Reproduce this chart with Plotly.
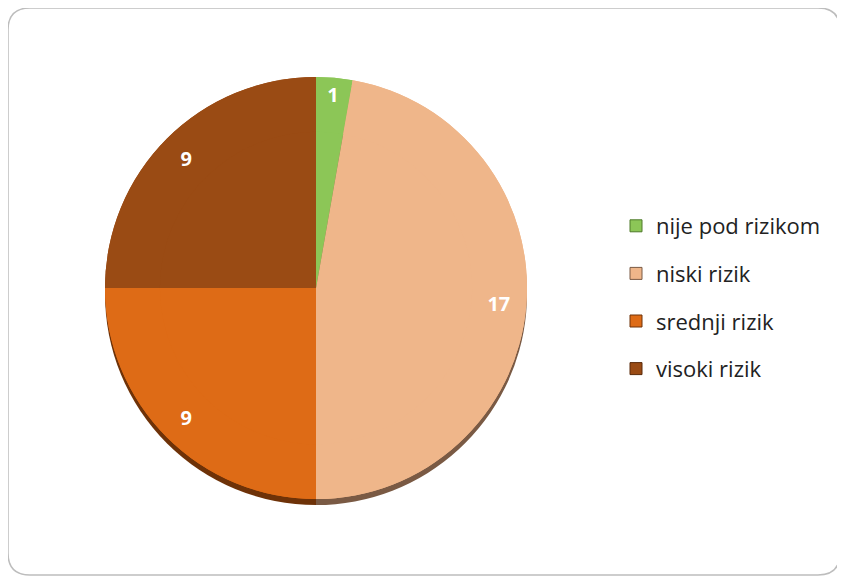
import plotly.graph_objects as go

categories = ["nije pod rizikom", "niski rizik", "srednji rizik", "visoki rizik"]
values = [1, 17, 9, 9]
colors = ["#8CC657", "#EFB68A", "#DE6B16", "#9A4B14"]
shadow_colors = ["#4E7A2A", "#7A5A44", "#6E3208", "#5A2A0A"]

W, H = 845, 579
OFF = 8  # page body margin offset

def px(x):
    return (x - OFF) / W

def py(y):
    return 1 - (y - OFF) / H

cx, cy, r = 316, 288, 211

fig = go.Figure()

# shadow rim of the pie
fig.add_trace(go.Pie(
    labels=categories, values=values, sort=False, direction="clockwise", rotation=0,
    marker=dict(colors=shadow_colors, line=dict(width=0)),
    textinfo="none", hoverinfo="skip", showlegend=False,
    domain=dict(x=[px(cx - r), px(cx + r)], y=[py(cy + r + 6), py(cy - r + 6)]),
))

# pie face
fig.add_trace(go.Pie(
    labels=categories, values=values, sort=False, direction="clockwise", rotation=0,
    marker=dict(colors=colors, line=dict(width=0)),
    textinfo="none", showlegend=False,
    domain=dict(x=[px(cx - r), px(cx + r)], y=[py(cy + r), py(cy - r)]),
))

# outer ring carrying the value labels near the edge
fig.add_trace(go.Pie(
    labels=categories, values=values, sort=False, direction="clockwise", rotation=0,
    hole=0.74,
    marker=dict(colors=colors, line=dict(width=0)),
    textinfo="value", textposition="inside", insidetextorientation="horizontal",
    textfont=dict(family="Open Sans", size=20, color="white", weight="bold"),
    showlegend=False,
    domain=dict(x=[px(cx - r), px(cx + r)], y=[py(cy + r), py(cy - r)]),
))

for i, (c, col) in enumerate(zip(categories, colors)):
    fig.add_trace(go.Scatter(
        x=[None], y=[None], mode="markers", name=c, legendgroup=c,
        marker=dict(symbol="square", size=12, color=col, line=dict(width=1, color=shadow_colors[i])),
    ))

# rounded border
x0, y0, x1, y1, rr = 8, 8, 840, 575, 22
path = (
    f"M {px(x0 + rr)},{py(y0)} L {px(x1 - rr)},{py(y0)} "
    f"Q {px(x1)},{py(y0)} {px(x1)},{py(y0 + rr)} "
    f"L {px(x1)},{py(y1 - rr)} Q {px(x1)},{py(y1)} {px(x1 - rr)},{py(y1)} "
    f"L {px(x0 + rr)},{py(y1)} Q {px(x0)},{py(y1)} {px(x0)},{py(y1 - rr)} "
    f"L {px(x0)},{py(y0 + rr)} Q {px(x0)},{py(y0)} {px(x0 + rr)},{py(y0)} Z"
)

fig.update_layout(
    width=W, height=H,
    margin=dict(l=0, r=0, t=0, b=0),
    paper_bgcolor="white", plot_bgcolor="white",
    xaxis=dict(visible=False, range=[0, 1]), yaxis=dict(visible=False, range=[0, 1]),
    shapes=[dict(type="path", xref="paper", yref="paper", path=path,
                 line=dict(color="#BDBDBD", width=1.5), layer="below")],
    legend=dict(x=px(616), y=py(205), xanchor="left", yanchor="top",
                font=dict(family="Open Sans", size=22, color="#222222"),
                tracegroupgap=16, itemwidth=30, bgcolor="rgba(0,0,0,0)"),
    showlegend=True,
)

fig.write_html("out.html")
